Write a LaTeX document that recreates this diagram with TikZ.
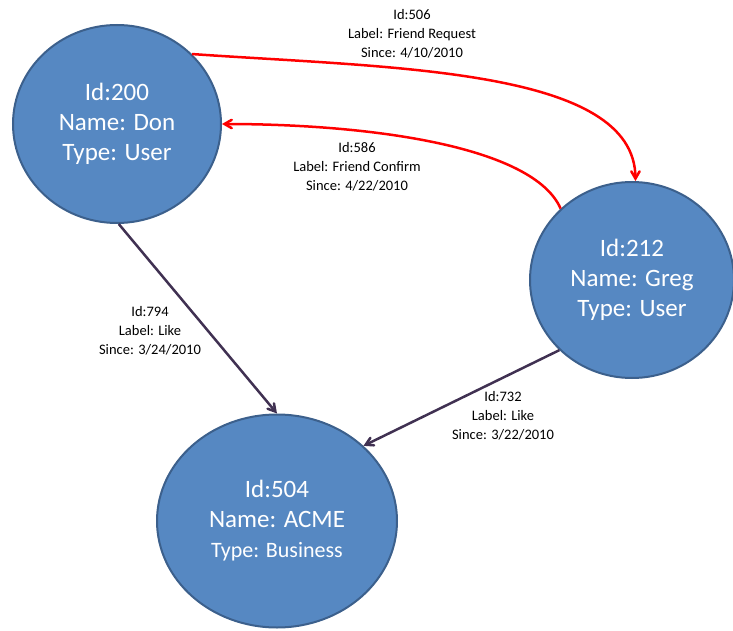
\documentclass[tikz,border=0pt]{standalone}
\usepackage{fontspec}
\setmainfont{Carlito}
\usetikzlibrary{arrows,shapes.geometric}

\definecolor{nodeblue}{RGB}{86,136,194}
\definecolor{nodeline}{RGB}{60,96,140}
\definecolor{likeline}{RGB}{64,49,82}

\begin{document}
\begin{tikzpicture}[x=1pt,y=1pt,
		entity/.style={ellipse, draw=nodeline, line width=2pt, fill=nodeblue, text=white,
			inner sep=0pt, align=center, font=\fontsize{25}{30}\selectfont},
		friend/.style={->, >=angle 60, draw=red, line width=2.5pt},
		like/.style={->, >=angle 60, draw=likeline, line width=2.5pt},
		edgelabel/.style={align=center, font=\fontsize{14.5}{19}\selectfont}]
	\useasboundingbox (0,0) rectangle (733,630);
	% vertices
		\node[entity, minimum width=208, minimum height=198] (don) at (117,506) {Id:200\\Name: Don\\Type: User};
		\node[entity, minimum width=204, minimum height=196] (greg) at (632,350) {Id:212\\Name: Greg\\Type: User};
		\node[entity, minimum width=240, minimum height=213] (acme) at (277,109) {Id:504\\Name: ACME\\{\fontsize{22}{26}\selectfont Type: Business}};
	% edges
		\draw[friend] (don.43) .. controls +(200,-14) and +(0,113) .. (greg.88);
		\draw[friend] (greg.135) .. controls +(-27,62) and +(150,0) .. (don.0);
		\draw[like] (don.-89) -- (acme.90);
		\draw[like] (greg.224) -- (acme.41);
	% edge labels
		\node[edgelabel] (lbl506) at (412,596) {Id:506\\Label: Friend Request\\Since: 4/10/2010};
		\node[edgelabel] (lbl586) at (357,463) {Id:586\\Label: Friend Confirm\\Since: 4/22/2010};
		\node[edgelabel] (lbl794) at (150,299) {Id:794\\Label: Like\\Since: 3/24/2010};
		\node[edgelabel] (lbl732) at (503,214) {Id:732\\Label: Like\\Since: 3/22/2010};
	\end{tikzpicture}
\end{document}
